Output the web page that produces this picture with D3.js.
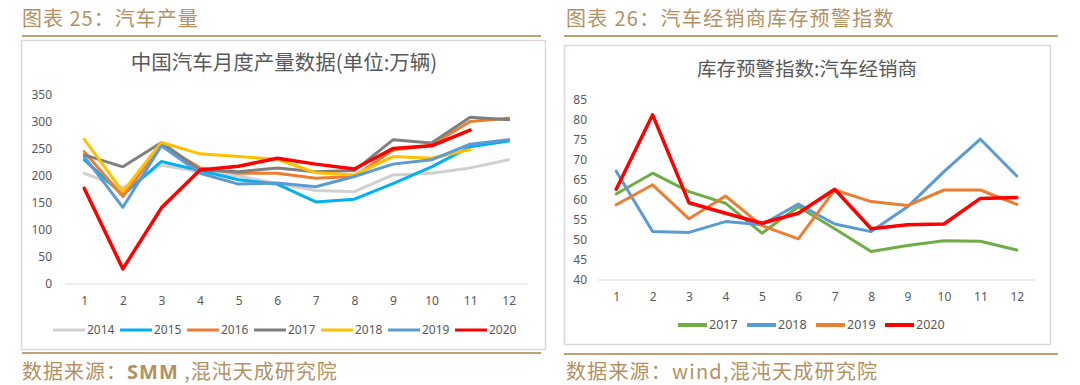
<!DOCTYPE html>
<html>
<head>
<meta charset="utf-8">
<script src="https://cdn.jsdelivr.net/npm/d3@7/dist/d3.min.js"></script>
<style>
  html, body { margin: 0; padding: 0; background: #ffffff; }
  svg { display: block; }
</style>
</head>
<body>
<svg id="chart" width="1080" height="385"></svg>
<script>
// ---------- DATA ----------
const months = ["1","2","3","4","5","6","7","8","9","10","11","12"];

// Left chart: China monthly auto production (10k units)
const prodYears = ["2014","2015","2016","2017","2018","2019","2020"];
const prod2014 = [205, 178, 220, 208, 200, 186, 173, 171, 202, 205, 215, 230];
const prod2015 = [230, 165, 227, 210, 193, 185, 152, 157, 186, 217, 254, 265];
const prod2016 = [245, 162, 258, 215, 205, 205, 196, 199, 248, 257, 301, 307];
const prod2017 = [239, 217, 262, 211, 208, 215, 208, 210, 267, 261, 309, 304];
const prod2018 = [268, 171, 262, 241, 236, 231, 206, 202, 236, 233, 249, null];
const prod2019 = [236, 142, 256, 205, 185, 187, 180, 199, 222, 230, 259, 267];
const prod2020 = [177, 28, 141, 211, 218, 233, 222, 213, 251, 256, 285, null];
const prodTicks = [0, 50, 100, 150, 200, 250, 300, 350];

// Right chart: dealer inventory warning index
const invYears = ["2017","2018","2019","2020"];
const inv2017 = [61.5, 66.7, 62.1, 59.2, 51.7, 58.3, 52.8, 47.1, 48.6, 49.8, 49.7, 47.5];
const inv2018 = [67.2, 52.1, 51.9, 54.6, 53.8, 59.0, 54.0, 52.1, 58.3, 67.1, 75.2, 66.0];
const inv2019 = [58.8, 63.8, 55.3, 61.0, 53.6, 50.3, 62.5, 59.6, 58.6, 62.5, 62.5, 58.9];
const inv2020 = [62.7, 81.3, 59.3, 56.7, 54.2, 56.7, 62.7, 52.8, 53.8, 54.0, 60.4, 60.6];
const invTicks = [40, 45, 50, 55, 60, 65, 70, 75, 80, 85];

const prodSeries = [prod2014, prod2015, prod2016, prod2017, prod2018, prod2019, prod2020];
const prodColors = ["#d0d0d0", "#00b0f0", "#ed7d31", "#7f7f7f", "#ffc000", "#5b9bd5", "#ff0000"];
const invSeries = [inv2017, inv2018, inv2019, inv2020];
const invColors = ["#70ad47", "#5b9bd5", "#ed7d31", "#ff0000"];

// ---------- DRAW ----------
const svg = d3.select("#chart");
const gold = "#b39163";
const goldLine = "#bfa077";
const cjk = "'Noto Sans CJK SC', 'Noto Sans', sans-serif";
const latin = "'Noto Sans', 'Open Sans', sans-serif";
const axisColor = "#595959";

// headers
svg.append("text").attr("x", 22).attr("y", 26)
  .attr("font-family", cjk).attr("font-size", 20).attr("letter-spacing", 1)
  .attr("fill", gold).text("图表 25：汽车产量");
svg.append("text").attr("x", 566).attr("y", 26)
  .attr("font-family", cjk).attr("font-size", 20).attr("letter-spacing", 1.3)
  .attr("fill", gold).text("图表 26：汽车经销商库存预警指数");
svg.append("line").attr("x1", 22).attr("x2", 541).attr("y1", 36).attr("y2", 36)
  .attr("stroke", goldLine).attr("stroke-width", 2);
svg.append("line").attr("x1", 564).attr("x2", 1058).attr("y1", 36).attr("y2", 36)
  .attr("stroke", goldLine).attr("stroke-width", 2);
svg.append("line").attr("x1", 22).attr("x2", 541).attr("y1", 353).attr("y2", 353)
  .attr("stroke", goldLine).attr("stroke-width", 2);
svg.append("line").attr("x1", 564).attr("x2", 1058).attr("y1", 354).attr("y2", 354)
  .attr("stroke", goldLine).attr("stroke-width", 2);

// footers
const f1 = svg.append("text").attr("x", 22).attr("y", 379)
  .attr("font-family", cjk).attr("font-size", 20).attr("letter-spacing", 1)
  .attr("fill", gold);
f1.append("tspan").text("数据来源：");
f1.append("tspan").attr("font-weight", "bold").attr("font-family", latin).text("SMM");
f1.append("tspan").text(" ,混沌天成研究院");
svg.append("text").attr("x", 566).attr("y", 379)
  .attr("font-family", cjk).attr("font-size", 20).attr("letter-spacing", 1.2)
  .attr("fill", gold).text("数据来源：wind,混沌天成研究院");

// frames
svg.append("rect").attr("x", 21.5).attr("y", 40.5).attr("width", 524).attr("height", 309)
  .attr("fill", "#fff").attr("stroke", "#d9d9d9").attr("stroke-width", 1.5);
svg.append("rect").attr("x", 564.5).attr("y", 45.5).attr("width", 486).attr("height", 299)
  .attr("fill", "#fff").attr("stroke", "#d9d9d9").attr("stroke-width", 1.5);

function drawChart(opts) {
  const g = svg.append("g");
  const x = d3.scalePoint().domain(months).range([opts.x0, opts.x1]).padding(0.5);
  const y = d3.scaleLinear().domain(opts.yDomain).range([opts.yBottom, opts.yTop]);

  // title
  g.append("text").attr("x", opts.titleX).attr("y", opts.titleY)
    .attr("text-anchor", "middle").attr("font-family", cjk)
    .attr("font-size", opts.titleSize).attr("fill", axisColor).text(opts.title);

  // y axis
  const ya = g.append("g").attr("transform", `translate(${opts.x0},0)`)
    .call(d3.axisLeft(y).tickValues(opts.ticks).tickSize(0).tickPadding(opts.yPad));
  ya.select(".domain").remove();
  ya.selectAll("text").attr("font-family", latin).attr("font-size", 12).attr("fill", axisColor);

  // x axis
  const xa = g.append("g").attr("transform", `translate(0,${opts.yBottom})`)
    .call(d3.axisBottom(x).tickSize(0).tickPadding(opts.xPad));
  xa.select(".domain").attr("stroke", "#d9d9d9").attr("stroke-width", 1.2)
    .attr("d", `M${opts.x0},0H${opts.x1}`);
  xa.selectAll("text").attr("font-family", latin).attr("font-size", 12).attr("fill", axisColor);

  const line = d3.line()
    .defined(d => d != null)
    .x((d, i) => x(months[i]))
    .y(d => y(d));

  opts.series.forEach((s, i) => {
    g.append("path").datum(s)
      .attr("fill", "none").attr("stroke", opts.colors[i])
      .attr("stroke-width", opts.widths ? opts.widths[i] : 3)
      .attr("stroke-linejoin", "round").attr("stroke-linecap", "round")
      .attr("d", line);
  });

  // legend
  opts.names.forEach((n, i) => {
    const lx = opts.legX + opts.legStep * i;
    g.append("line").attr("x1", lx).attr("x2", lx + opts.legLen)
      .attr("y1", opts.legY).attr("y2", opts.legY)
      .attr("stroke", opts.colors[i]).attr("stroke-width", opts.legWidth);
    g.append("text").attr("x", lx + opts.legLen + 2).attr("y", opts.legY)
      .attr("dy", "0.35em").attr("font-family", latin).attr("font-size", opts.legFont)
      .attr("fill", axisColor).text(n);
  });
}

drawChart({
  x0: 65, x1: 528, yBottom: 284, yTop: 95, yDomain: [0, 350],
  ticks: prodTicks, yPad: 13, xPad: 12,
  title: "中国汽车月度产量数据(单位:万辆)", titleX: 284, titleY: 70, titleSize: 20.5,
  series: prodSeries, colors: prodColors, names: prodYears,
  widths: [3, 3, 3, 3, 3, 3, 3.5],
  legX: 53, legStep: 67, legLen: 32, legY: 330, legWidth: 3, legFont: 12
});

drawChart({
  x0: 598, x1: 1035, yBottom: 280, yTop: 100, yDomain: [40, 85],
  ticks: invTicks, yPad: 11, xPad: 12,
  title: "库存预警指数:汽车经销商", titleX: 807, titleY: 76, titleSize: 19.5,
  series: invSeries, colors: invColors, names: invYears,
  widths: [3, 3, 3, 3.5],
  legX: 678, legStep: 69, legLen: 29, legY: 325, legWidth: 4, legFont: 12.5
});
</script>
</body>
</html>
